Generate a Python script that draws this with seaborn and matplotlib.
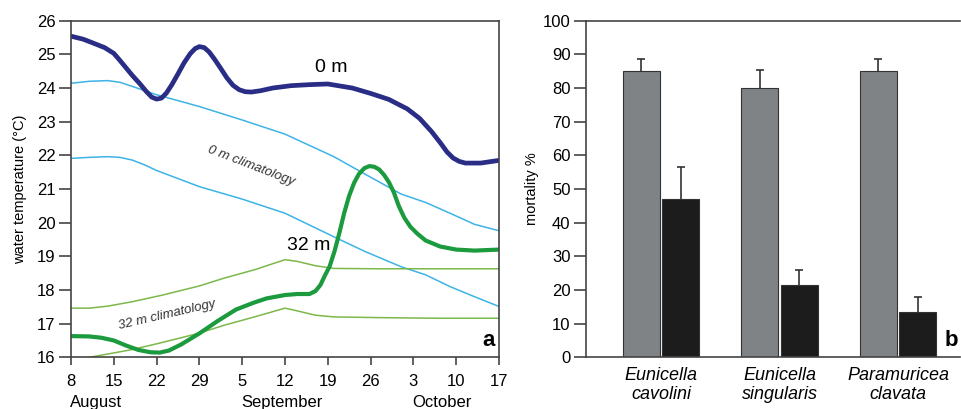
import pandas as pd
import numpy as np
import seaborn as sns
import matplotlib.pyplot as plt
import matplotlib.transforms as mtransforms
from matplotlib import font_manager

# ---- panel a: water temperature (days since 8 August) ----
days_0m = [0, 2, 3.7, 5.5, 7, 8, 9, 10, 11.3, 12.3, 13.2, 14, 14.8, 15.6, 16.5, 17.5, 18.5, 19.5,
           20.3, 21, 21.8, 22.6, 23.5, 24.5, 25.5, 26.5, 27.5, 28.5, 29.5, 31, 33, 36, 39, 42, 46,
           49, 52, 55, 57, 59, 60.5, 61.5, 62.5, 63.5, 64.5, 67, 70]
temp_0m = [25.54, 25.45, 25.33, 25.2, 25.03, 24.82, 24.6, 24.38, 24.12, 23.9, 23.73, 23.67, 23.7,
           23.85, 24.1, 24.42, 24.75, 25.02, 25.17, 25.23, 25.2, 25.07, 24.85, 24.58, 24.3, 24.08,
           23.95, 23.89, 23.88, 23.92, 24.0, 24.07, 24.1, 24.12, 24.0, 23.84, 23.66, 23.38, 23.1,
           22.7, 22.35, 22.1, 21.92, 21.82, 21.77, 21.77, 21.85]

days_32m = [0, 3, 5, 7, 9, 11, 13, 14.5, 16, 18, 21, 24, 27, 30, 32, 35, 37, 39, 40, 40.8, 41.5,
            42.3, 43.1, 43.9, 44.7, 45.5, 46.3, 47.1, 48, 48.8, 49.6, 50.4, 51.2, 52, 52.8, 53.6,
            54.5, 55.5, 56.6, 58, 60.4, 63, 66, 70]
temp_32m = [16.63, 16.62, 16.58, 16.5, 16.35, 16.22, 16.15, 16.14, 16.2, 16.38, 16.71, 17.08,
            17.42, 17.63, 17.75, 17.85, 17.88, 17.88, 17.97, 18.15, 18.42, 18.7, 19.15, 19.7, 20.3,
            20.8, 21.18, 21.45, 21.62, 21.68, 21.66, 21.58, 21.42, 21.2, 20.9, 20.5, 20.15, 19.88,
            19.68, 19.47, 19.29, 19.2, 19.17, 19.2]

days_clim_0m = [0, 3, 6, 8, 10, 14, 21, 28, 35, 43, 48, 54, 58, 62, 66, 70]
clim_0m_upper = [24.14, 24.2, 24.22, 24.17, 24.05, 23.8, 23.45, 23.05, 22.63, 21.96, 21.45, 20.85,
                 20.6, 20.28, 19.95, 19.76]
days_clim_0m_low = [0, 3, 6, 8, 10, 12, 14, 21, 28, 35, 43, 48, 54, 58, 62, 66, 70]
clim_0m_lower = [21.91, 21.94, 21.96, 21.94, 21.86, 21.72, 21.55, 21.07, 20.7, 20.28, 19.58,
                 19.15, 18.69, 18.45, 18.1, 17.8, 17.51]

days_clim_32m = [0, 3, 6, 10, 15, 21, 25, 30, 35, 37, 40, 43, 50, 60, 70]
clim_32m_upper = [17.46, 17.46, 17.52, 17.65, 17.85, 18.12, 18.35, 18.6, 18.9, 18.85, 18.72, 18.64,
                  18.63, 18.63, 18.63]
days_clim_32m_low = [0, 3, 7, 10, 14, 18, 21, 25, 30, 35, 37, 40, 43, 50, 60, 70]
clim_32m_lower = [15.88, 16.0, 16.13, 16.23, 16.4, 16.58, 16.72, 16.95, 17.2, 17.46, 17.38, 17.25,
                  17.2, 17.18, 17.16, 17.16]

tick_days = [0, 7, 14, 21, 28, 35, 42, 49, 56, 63, 70]
tick_labels = ['8', '15', '22', '29', '5', '12', '19', '26', '3', '10', '17']
months = ['August', 'September', 'October']
month_days = [0, 28, 56]

# ---- panel b: mortality ----
species = ['Eunicella\ncavolini', 'Eunicella\nsingularis', 'Paramuricea\nclavata']
mort_gray = [85, 80, 85]
err_gray = [3.5, 5.5, 3.5]
mort_black = [47, 21.5, 13.5]
err_black = [9.5, 4.5, 4.5]

names = {f.name for f in font_manager.fontManager.ttflist}
narrow = 'Liberation Sans Narrow' if 'Liberation Sans Narrow' in names else 'Liberation Sans'
plt.rcParams['font.family'] = [narrow, 'DejaVu Sans']

fig = plt.figure(figsize=(9.62, 4.09), dpi=100)
ax1 = fig.add_axes([0.0738, 0.1264, 0.4449, 0.823])
ax2 = fig.add_axes([0.609, 0.1264, 0.389, 0.823])

navy = '#2a2d86'
sky = '#3db3e6'
green = '#1b9a3e'
lgreen = '#7cb84a'
edge = '#444444'

sns.lineplot(x=days_clim_0m, y=clim_0m_upper, ax=ax1, color=sky, lw=1.1)
sns.lineplot(x=days_clim_0m_low, y=clim_0m_lower, ax=ax1, color=sky, lw=1.1)
sns.lineplot(x=days_clim_32m, y=clim_32m_upper, ax=ax1, color=lgreen, lw=1.1)
sns.lineplot(x=days_clim_32m_low, y=clim_32m_lower, ax=ax1, color=lgreen, lw=1.1)
sns.lineplot(x=days_32m, y=temp_32m, ax=ax1, color=green, lw=3.0)
sns.lineplot(x=days_0m, y=temp_0m, ax=ax1, color=navy, lw=3.4)
for ln in ax1.lines:
    ln.set_solid_joinstyle('round')
    ln.set_solid_capstyle('round')

ax1.set_xlim(0, 70)
ax1.set_ylim(16, 26)
ax1.set_xticks(tick_days)
ax1.set_xticklabels(tick_labels)
ax1.set_yticks(range(16, 27))
ax1.tick_params(axis='y', direction='out', length=9, width=1.2, labelsize=12, color=edge, pad=2)
ax1.tick_params(axis='x', direction='out', length=6, width=1.2, labelsize=12, color=edge, pad=6)
for s in ax1.spines.values():
    s.set_color(edge)
    s.set_linewidth(1.2)
ax1.set_ylabel('water temperature (°C)', fontsize=10.5, labelpad=7)
ax1.set_xlabel('')
trans = mtransforms.blended_transform_factory(ax1.transData, ax1.transAxes)
for m, d in zip(months, month_days):
    ax1.text(d - 0.2, -0.112, m, transform=trans, ha='left', va='top', fontsize=12)

ax1.text(42.5, 24.62, '0 m', fontsize=14, ha='center', va='center')
ax1.text(38.9, 19.33, '32 m', fontsize=14, ha='center', va='center')
ax1.text(29.5, 21.68, '0 m climatology', fontsize=9.5, style='italic', rotation=-21,
         ha='center', va='center', color='#333333')
ax1.text(15.7, 17.25, '32 m climatology', fontsize=9.5, style='italic', rotation=13,
         ha='center', va='center', color='#333333')
ax1.text(0.99, 0.05, 'a', transform=ax1.transAxes, fontsize=16, fontweight='bold',
         ha='right', va='center', family='Liberation Sans')

# bars
df = pd.DataFrame({
    'species': species * 2,
    'mortality': mort_gray + mort_black,
    'group': ['first'] * 3 + ['second'] * 3,
})
sns.barplot(data=df, x='species', y='mortality', hue='group', ax=ax2,
            palette=['#7f8386', '#1c1c1c'], width=0.667, gap=0.06,
            edgecolor='#333333', linewidth=0.8, legend=False)
errs = err_gray + err_black
for p, e in zip(list(ax2.patches), errs):
    xc = p.get_x() + p.get_width() / 2
    top = p.get_height()
    half = p.get_width() * 0.11
    ax2.vlines(xc, top, top + e, color='#333333', lw=1.2, zorder=1)
    ax2.hlines(top + e, xc - half, xc + half, color='#333333', lw=1.2, zorder=1)

ax2.set_xlim(-0.633, 2.523)
ax2.set_ylim(0, 100)
ax2.set_yticks(range(0, 101, 10))
ax2.tick_params(axis='y', direction='out', length=9, width=1.2, labelsize=12, color=edge, pad=2)
ax2.tick_params(axis='x', length=0, pad=7)
for lab in ax2.get_xticklabels():
    lab.set_style('italic')
    lab.set_fontsize(13)
    lab.set_linespacing(1.15)
for s in ax2.spines.values():
    s.set_color(edge)
    s.set_linewidth(1.2)
ax2.spines['right'].set_visible(False)
ax2.set_xlabel('')
ax2.set_ylabel('mortality %', fontsize=10.5, labelpad=3)
ax2.text(0.995, 0.05, 'b', transform=ax2.transAxes, fontsize=16, fontweight='bold',
         ha='right', va='center', family='Liberation Sans')

fig.savefig('out.png', dpi=100)
